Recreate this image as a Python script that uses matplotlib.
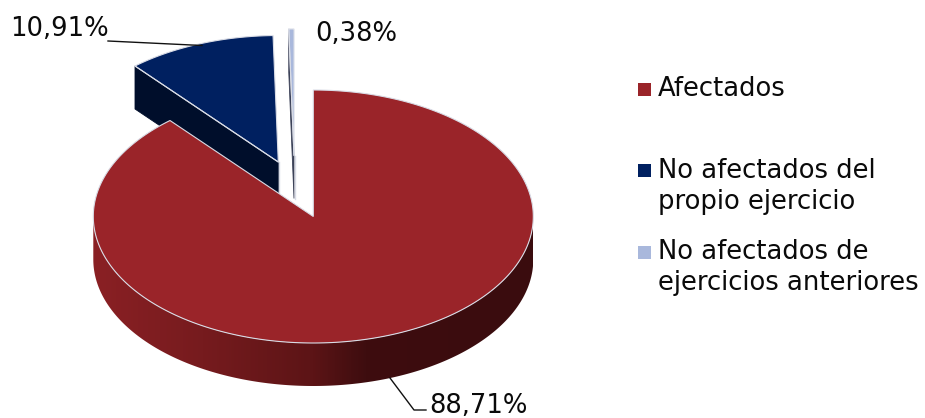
import numpy as np
import matplotlib
matplotlib.use("Agg")
import matplotlib.pyplot as plt
from matplotlib.colors import LinearSegmentedColormap
from matplotlib.patches import Polygon, Rectangle

plt.rcParams['font.family'] = ['DejaVu Sans']

# data
categories = ["Afectados", "No afectados del\npropio ejercicio", "No afectados de\nejercicios anteriores"]
values = [88.71, 10.91, 0.38]
value_labels = ["88,71%", "10,91%", "0,38%"]

# colours
top_colors = ["#9A2429", "#002060", "#A9B8DC"]
wall_colors = ["#3A0C0E", "#000E2B", "#3C4258"]
edge_color = "#D9DCE6"
text_color = "#0A0A0A"

# pie geometry, in pixels
rx, ry = 220, 126.5
depth = 43
centers = [(313.3, 216.5), (278.3, 162), (294, 155.5)]

legend_x = 637.5
legend_y = [82.5, 164, 246]
legend_text_y = [89, 186.5, 267.5]
font_size = 18.6


def ell(center, t):
    # t is the clockwise angle from 12 o'clock
    return center[0] + rx * np.sin(t), center[1] - ry * np.cos(t)


def slice_points(center, a, b):
    t = np.linspace(a, b, 300)
    x, y = ell(center, t)
    return np.r_[center[0], x], np.r_[center[1], y]


fig = plt.figure(figsize=(9.25, 4.18), dpi=100)
ax = fig.add_axes([0, 0, 1, 1])
ax.set_xlim(0, 925)
ax.set_ylim(418, 0)
ax.axis("off")

bounds = np.r_[0, np.cumsum(values)] / np.sum(values) * 2 * np.pi

# exploded slices first: cut wall then top
for i in [1, 2]:
    a, b = bounds[i], bounds[i + 1]
    c = centers[i]
    xa, ya = ell(c, a)
    wall = [(xa, ya), c, (c[0], c[1] + depth), (xa, ya + depth)]
    ax.add_patch(Polygon(wall, closed=True, fc=wall_colors[i], ec=wall_colors[i], lw=0.6, zorder=2))
    ax.plot([c[0] + 0.5, c[0] + 0.5], [c[1], c[1] + depth], color=edge_color, lw=1.0, zorder=2)
    x, y = slice_points(c, a, b)
    ax.add_patch(Polygon(np.c_[x, y], closed=True, fc=top_colors[i], ec=edge_color, lw=0.8, zorder=3))
    ax.plot([xa, c[0]], [ya, c[1]], color=edge_color, lw=0.8, zorder=4)

# outer wall of the big slice, shaded along x
shade = LinearSegmentedColormap.from_list(
    "shade", [(0, "#8A2024"), (0.25, "#761B1E"), (0.5, "#5C1416"), (0.62, "#3E0D0F"), (1, "#3A0C0E")])
t = np.linspace(np.pi / 2, 3 * np.pi / 2, 400)
x, y = ell(centers[0], t)
wall_path = np.r_[np.c_[x, y], np.c_[x, y + depth][::-1]]
clip = Polygon(wall_path, closed=True, fc="none", ec="none", transform=ax.transData)
ax.add_patch(clip)
im = ax.imshow(np.linspace(0, 1, 440)[None, :], cmap=shade, aspect="auto",
               extent=(centers[0][0] - rx, centers[0][0] + rx, 400, 200), zorder=5)
im.set_clip_path(clip)
ax.set_xlim(0, 925)
ax.set_ylim(418, 0)

# top of the big slice
x, y = slice_points(centers[0], bounds[0], bounds[1])
ax.add_patch(Polygon(np.c_[x, y], closed=True, fc=top_colors[0], ec=edge_color, lw=0.8, zorder=6))

# leader lines
ax.plot([390, 414, 426], [378, 410, 410], color="#111111", lw=1.0, zorder=7)
ax.plot([108, 202], [41, 45.5], color="#111111", lw=1.0, zorder=7)

# data labels
ax.text(429, 405.5, value_labels[0], fontsize=font_size, color=text_color, va="center", ha="left")
ax.text(10, 29, value_labels[1], fontsize=font_size, color=text_color, va="center", ha="left")
ax.text(315, 34, value_labels[2], fontsize=font_size, color=text_color, va="center", ha="left")

# legend
for i in range(len(categories)):
    ax.add_patch(Rectangle((legend_x, legend_y[i]), 13, 13, fc=top_colors[i], ec="none"))
    ax.text(658, legend_text_y[i], categories[i], fontsize=font_size, color=text_color,
            va="center", ha="left", linespacing=1.27)

fig.savefig("out.png", dpi=100)
